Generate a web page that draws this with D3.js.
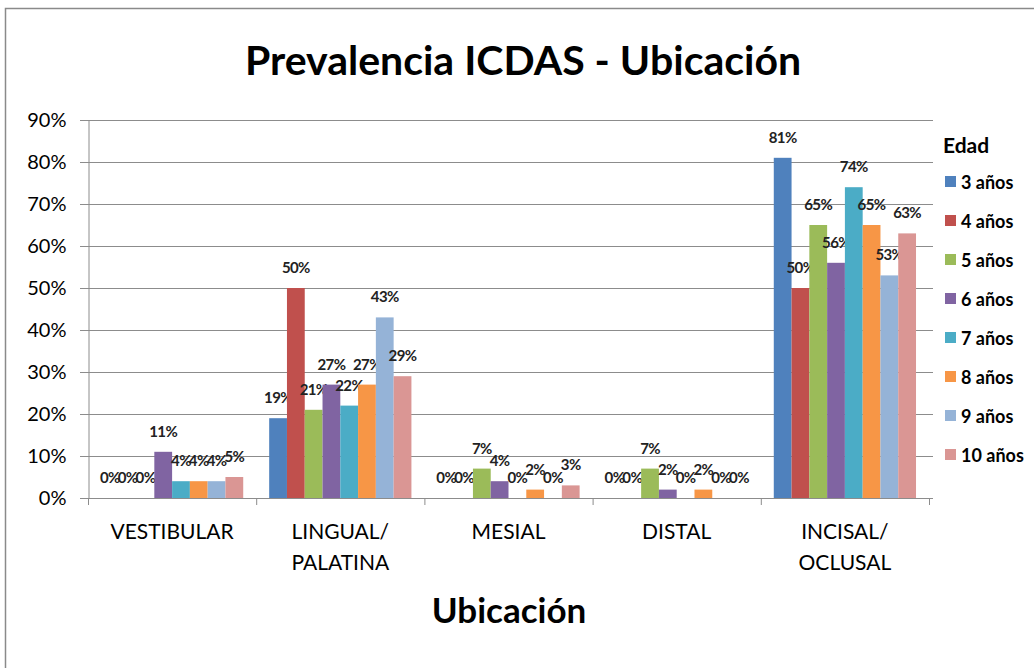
<!DOCTYPE html>
<html>
<head>
<meta charset="utf-8">
<script src="https://cdn.jsdelivr.net/npm/d3@7"></script>
<style>
  body { margin: 0; background: #fff; }
  svg { display: block; font-family: Lato, "Open Sans", sans-serif; }
</style>
</head>
<body>
<div id="chart"></div>
<script>
// data
var categories = ["VESTIBULAR", "LINGUAL/|PALATINA", "MESIAL", "DISTAL", "INCISAL/|OCLUSAL"];
var seriesNames = ["3 años", "4 años", "5 años", "6 años", "7 años", "8 años", "9 años", "10 años"];
var values = [
  [0, 19, 0, 0, 81],   // 3 años
  [0, 50, 0, 0, 50],   // 4 años
  [0, 21, 7, 7, 65],   // 5 años
  [11, 27, 4, 2, 56],  // 6 años
  [4, 22, 0, 0, 74],   // 7 años
  [4, 27, 2, 2, 65],   // 8 años
  [4, 43, 0, 0, 53],   // 9 años
  [5, 29, 3, 0, 63]    // 10 años
];
var yTicks = [0, 10, 20, 30, 40, 50, 60, 70, 80, 90];
var colors = ["#4F81BD", "#C0504D", "#9BBB59", "#8064A2", "#4BACC6", "#F79646", "#95B3D7", "#DA9694"];

var W = 1034, H = 668;
var svg = d3.select("#chart").append("svg").attr("width", W).attr("height", H);

// chart border
svg.append("rect").attr("x", 5.5).attr("y", 8.5).attr("width", W + 10).attr("height", H + 10)
  .attr("fill", "none").attr("stroke", "#8a8a8a").attr("stroke-width", 1.5);

var plotLeft = 88, plotRight = 929, plotTop = 120, plotBottom = 498;

var x0 = d3.scaleBand().domain(categories).range([plotLeft, plotRight]).padding(0);
var x1 = d3.scaleBand().domain(seriesNames).range([0, x0.bandwidth()]).paddingInner(0).paddingOuter(0.73);
var y = d3.scaleLinear().domain([0, 90]).range([plotBottom, plotTop]);

// title
svg.append("text").attr("x", 523).attr("y", 75).attr("text-anchor", "middle")
  .attr("font-size", 41).attr("font-weight", "bold").text("Prevalencia ICDAS - Ubicación");

// gridlines
svg.append("g").selectAll("line").data(yTicks).join("line")
  .attr("x1", plotLeft - 8).attr("x2", plotRight + 4)
  .attr("y1", function(d) { return Math.round(y(d)) + 0.5; })
  .attr("y2", function(d) { return Math.round(y(d)) + 0.5; })
  .attr("stroke", "#8c8c8c").attr("stroke-width", 1);

// y axis
var yAxis = svg.append("g").attr("transform", "translate(" + (plotLeft + 0.5) + ",0)")
  .call(d3.axisLeft(y).tickValues(yTicks).tickSize(8).tickPadding(14).tickFormat(function(d) { return d + "%"; }));
yAxis.select(".domain").attr("stroke", "#8c8c8c");
yAxis.selectAll(".tick line").attr("stroke", "#8c8c8c");
yAxis.selectAll("text").attr("font-size", 20).attr("fill", "#000").attr("font-family", "Lato");

// bars
var groups = svg.append("g").selectAll("g").data(seriesNames).join("g")
  .attr("fill", function(d, i) { return colors[i]; });

groups.selectAll("rect").data(function(d, i) {
    return categories.map(function(c, j) { return {cat: c, s: d, v: values[i][j]}; });
  }).join("rect")
  .attr("x", function(d) { return x0(d.cat) + x1(d.s); })
  .attr("y", function(d) { return y(d.v); })
  .attr("width", x1.bandwidth())
  .attr("height", function(d) { return y(0) - y(d.v); });

// x axis
svg.append("line").attr("x1", plotLeft).attr("x2", plotRight + 4).attr("y1", plotBottom + 0.5).attr("y2", plotBottom + 0.5)
  .attr("stroke", "#8c8c8c");
svg.append("g").selectAll("line").data(d3.range(categories.length + 1)).join("line")
  .attr("x1", function(i) { return plotLeft + i * x0.step() + 0.5; })
  .attr("x2", function(i) { return plotLeft + i * x0.step() + 0.5; })
  .attr("y1", plotBottom).attr("y2", plotBottom + 7)
  .attr("stroke", "#8c8c8c");

// data labels
groups.selectAll("text").data(function(d, i) {
    return categories.map(function(c, j) { return {cat: c, s: d, v: values[i][j]}; });
  }).join("text")
  .attr("x", function(d) { return x0(d.cat) + x1(d.s) + x1.bandwidth() / 2; })
  .attr("y", function(d) { return y(d.v) - 15; })
  .attr("text-anchor", "middle").attr("font-size", 15).attr("font-weight", "bold")
  .attr("fill", "#222").attr("letter-spacing", -0.6)
  .text(function(d) { return d.v + "%"; });

// category labels
var catLabels = svg.append("g").selectAll("text").data(categories).join("text")
  .attr("x", function(d) { return x0(d) + x0.bandwidth() / 2; })
  .attr("y", 539).attr("text-anchor", "middle").attr("font-size", 21);
catLabels.selectAll("tspan").data(function(d) { return d.split("|"); }).join("tspan")
  .attr("x", function() { return this.parentNode.getAttribute("x"); })
  .attr("dy", function(d, i) { return i ? 31 : 0; })
  .text(function(d) { return d; });

// axis title
svg.append("text").attr("x", 509).attr("y", 623).attr("text-anchor", "middle")
  .attr("font-size", 35).attr("font-weight", "bold").text("Ubicación");

// legend
var lg = svg.append("g").attr("transform", "translate(945,0)");
lg.append("text").attr("x", -2).attr("y", 153).attr("font-size", 21).attr("font-weight", "bold").text("Edad");
var items = lg.selectAll("g").data(seriesNames).join("g")
  .attr("transform", function(d, i) { return "translate(0," + (182 + i * 39) + ")"; });
items.append("rect").attr("x", 0).attr("y", -6).attr("width", 11).attr("height", 11)
  .attr("fill", function(d, i) { return colors[i]; });
items.append("text").attr("x", 16).attr("y", 6.5).attr("font-size", 18).attr("font-weight", "bold")
  .text(function(d) { return d; });
</script>
</body>
</html>
